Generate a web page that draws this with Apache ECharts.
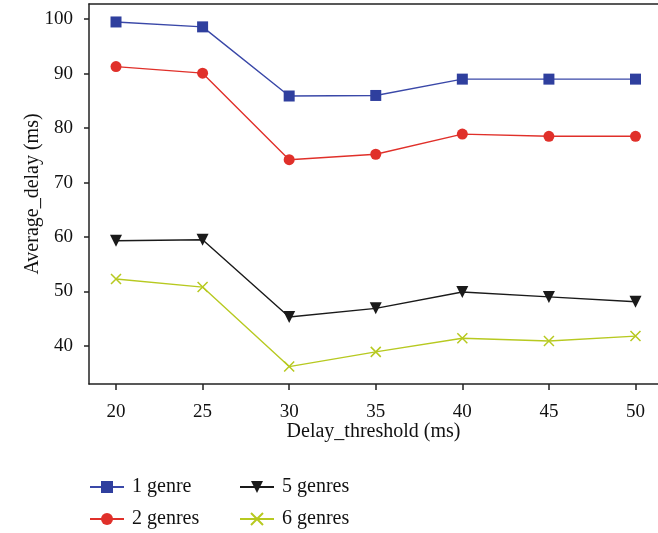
<!DOCTYPE html>
<html>
<head>
<meta charset="utf-8">
<script src="https://cdn.jsdelivr.net/npm/echarts@6/dist/echarts.min.js"></script>
<style>
  html, body { margin: 0; padding: 0; background: #fff; }
  #chart { width: 658px; height: 533px; }
</style>
</head>
<body>
<div id="chart"></div>
<script>
// Delay thresholds on the x axis (ms)
const thresholds = [20, 25, 30, 35, 40, 45, 50];

// Average delay (ms) per number of genres
const genre1 = [99.5, 98.6, 85.9, 86.0, 89.0, 89.0, 89.0];
const genre2 = [91.3, 90.1, 74.2, 75.2, 78.9, 78.5, 78.5];
const genre5 = [59.3, 59.5, 45.3, 46.9, 49.9, 49.0, 48.1];
const genre6 = [52.3, 50.8, 36.2, 38.9, 41.4, 40.9, 41.8];

// Tick labels
const xTicks = [20, 25, 30, 35, 40, 45, 50];
const yTicks = [40, 50, 60, 70, 80, 90, 100];

// Legend entries: two columns of two rows
const legendNames = ['1 genre', '2 genres', '5 genres', '6 genres'];

const FONT = '"Liberation Serif", "DejaVu Serif", serif';
const AXIS = '#222';

const pairs = (ys) => thresholds.map((x, i) => [x, ys[i]]);

const crossPath = 'path://M0,0L10,10M10,0L0,10';

// one legend component per entry so the 2x2 layout is fixed
const legendSlots = [
  { left: 89, top: 477 },
  { left: 89, top: 509 },
  { left: 239, top: 477 },
  { left: 239, top: 509 }
];
const legends = legendNames.map((name, i) => ({
  data: [name],
  left: legendSlots[i].left,
  top: legendSlots[i].top,
  itemWidth: 34, itemHeight: 15,
  padding: 0,
  textStyle: { fontFamily: FONT, fontSize: 20, color: '#111', padding: [0, 0, 0, 3] }
}));

const chart = echarts.init(document.getElementById('chart'), null, { renderer: 'canvas' });

chart.setOption({
  animation: false,
  backgroundColor: '#fff',
  textStyle: { fontFamily: FONT },
  grid: { left: 89, right: 0, top: 4, bottom: 149, containLabel: false },
  legend: legends,
  xAxis: [
    {
      type: 'value',
      min: 18.44, max: 51.3,
      name: 'Delay_threshold (ms)',
      nameLocation: 'middle',
      nameGap: 38,
      nameMoveOverlap: false,
      nameTextStyle: { fontFamily: FONT, fontSize: 20, color: '#111' },
      axisLine: { show: true, lineStyle: { color: AXIS, width: 1.5 } },
      axisTick: { show: true, length: 6, inside: false, customValues: xTicks, lineStyle: { color: AXIS, width: 1.5 } },
      axisLabel: { customValues: xTicks, margin: 19, fontFamily: FONT, fontSize: 19, color: '#111' },
      splitLine: { show: false }
    },
    {
      type: 'value',
      position: 'top',
      min: 18.44, max: 51.3,
      axisLine: { show: true, lineStyle: { color: AXIS, width: 1.5 } },
      axisTick: { show: false },
      axisLabel: { show: false },
      splitLine: { show: false }
    }
  ],
  yAxis: {
    type: 'value',
    min: 33, max: 102.8,
    name: 'Average_delay (ms)',
    nameLocation: 'middle',
    nameGap: 46,
    nameMoveOverlap: false,
    nameTextStyle: { fontFamily: FONT, fontSize: 20, color: '#111' },
    axisLine: { show: true, lineStyle: { color: AXIS, width: 1.5 } },
    axisTick: { show: true, length: 5, inside: false, customValues: yTicks, lineStyle: { color: AXIS, width: 1.5 } },
    axisLabel: { customValues: yTicks, margin: 16, fontFamily: FONT, fontSize: 19, color: '#111' },
    splitLine: { show: false }
  },
  series: [
    {
      name: '1 genre', type: 'line', data: pairs(genre1),
      symbol: 'rect', symbolSize: 11,
      lineStyle: { color: '#3a48a8', width: 1.4 },
      itemStyle: { color: '#2f3f9e' }
    },
    {
      name: '2 genres', type: 'line', data: pairs(genre2),
      symbol: 'circle', symbolSize: 11,
      lineStyle: { color: '#e0302a', width: 1.4 },
      itemStyle: { color: '#e0302a' }
    },
    {
      name: '5 genres', type: 'line', data: pairs(genre5),
      symbol: 'triangle', symbolRotate: 180, symbolSize: 12,
      lineStyle: { color: '#1a1a1a', width: 1.4 },
      itemStyle: { color: '#1a1a1a' }
    },
    {
      name: '6 genres', type: 'line', data: pairs(genre6),
      symbol: crossPath, symbolSize: 10,
      lineStyle: { color: '#b7c920', width: 1.4 },
      itemStyle: { color: 'rgba(0,0,0,0)', borderColor: '#b7c920', borderWidth: 1.5 }
    }
  ]
});
</script>
</body>
</html>
